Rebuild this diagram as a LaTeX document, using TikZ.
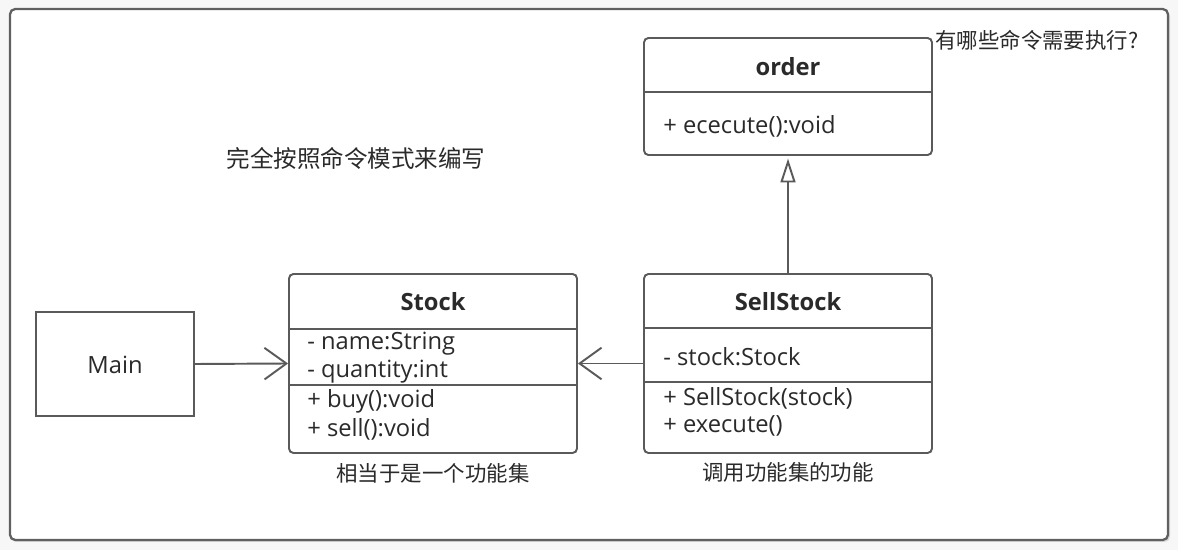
\documentclass[tikz,border=0pt]{standalone}
\usepackage{fontspec}
\setmainfont{Open Sans}
\newfontfamily\cjk{Noto Sans CJK SC}
\usetikzlibrary{arrows.meta}
\definecolor{linegray}{HTML}{5A5A5A}
\definecolor{textgray}{HTML}{2A2A2A}
\tikzset{classbox/.style={draw=linegray, line width=1.1pt, rounded corners=2.5pt, fill=white, inner sep=0pt}}
\tikzset{plainbox/.style={draw=linegray, line width=1.1pt, fill=white, inner sep=0pt}}
\tikzset{member/.style={anchor=west, inner sep=0pt, text=textgray, font=\fontsize{13.5}{16}\selectfont}}
\tikzset{classname/.style={inner sep=0pt, text=textgray, font=\fontsize{13.5}{16}\selectfont\bfseries}}
\tikzset{note/.style={inner sep=0pt, text=textgray, font=\cjk\fontsize{12.2}{14}\selectfont}}
\tikzset{sepline/.style={draw=linegray, line width=1.1pt}}
\tikzset{assoc/.style={draw=linegray, line width=1.1pt, -{Straight Barb[length=12.5pt,width=18pt,line width=1.1pt]}}}
\tikzset{extends/.style={draw=linegray, line width=1.1pt, shorten >=1.5pt, -{Triangle[open,length=13.6pt,width=8.5pt,fill=white,line width=1.1pt]}}}

\begin{document}
\begin{tikzpicture}[x=0.02cm,y=-0.02cm]
\useasboundingbox (0,0) rectangle (1178,550);
\fill[gray!6] (0,0) rectangle (1178,550);
\fill[gray!30, rounded corners=3pt] (11,11) rectangle (1170,542);
\draw[draw=gray!75!black, line width=1.3pt, rounded corners=3pt, fill=white] (10,9) rectangle (1168,540);

\node[plainbox, minimum width=3.16cm, minimum height=2.08cm] (main) at (115,364) {};
\node[member, anchor=center] (mainname) at (115,365) {Main};

\node[classbox, minimum width=5.76cm, minimum height=3.58cm] (stock) at (433,363.5) {};
\node[classname] (stockname) at (433,302) {Stock};
\draw[sepline] (stock.west |- 0,329) -- (stock.east |- 0,329);
\draw[sepline] (stock.west |- 0,385) -- (stock.east |- 0,385);
\node[member] (stockattr1) at (307,344) {- name:String};
\node[member] (stockattr2) at (307,372) {- quantity:int};
\node[member] (stockop1) at (307,401) {+ buy():void};
\node[member] (stockop2) at (307,429) {+ sell():void};
\node[note] (stocknote) at (433,473) {相当于是一个功能集};

\node[classbox, minimum width=5.76cm, minimum height=3.58cm] (sell) at (788,363.5) {};
\node[classname] (sellname) at (788,302) {SellStock};
\draw[sepline] (sell.west |- 0,328) -- (sell.east |- 0,328);
\draw[sepline] (sell.west |- 0,382) -- (sell.east |- 0,382);
\node[member] (sellattr1) at (663,357) {- stock:Stock};
\node[member] (sellop1) at (663,398) {+ SellStock(stock)};
\node[member] (sellop2) at (663,426) {+ execute()};
\node[note] (sellnote) at (788,472) {调用功能集的功能};

\node[classbox, minimum width=5.76cm, minimum height=2.34cm] (order) at (788,96.5) {};
\node[classname] (ordername) at (788,67) {order};
\draw[sepline] (order.west |- 0,92) -- (order.east |- 0,92);
\node[member] (orderop1) at (663,126) {+ ececute():void};

\node[note, anchor=west] (question) at (935,40) {有哪些命令需要执行?};
\node[note, font=\cjk\fontsize{13.4}{16}\selectfont] (title) at (356,158) {完全按照命令模式来编写};

\draw[assoc] (main.east) -- (stock.west);
\draw[assoc] (sell.west) -- (stock.east);
\draw[extends] (sell.north) -- (order.south);
\end{tikzpicture}
\end{document}
